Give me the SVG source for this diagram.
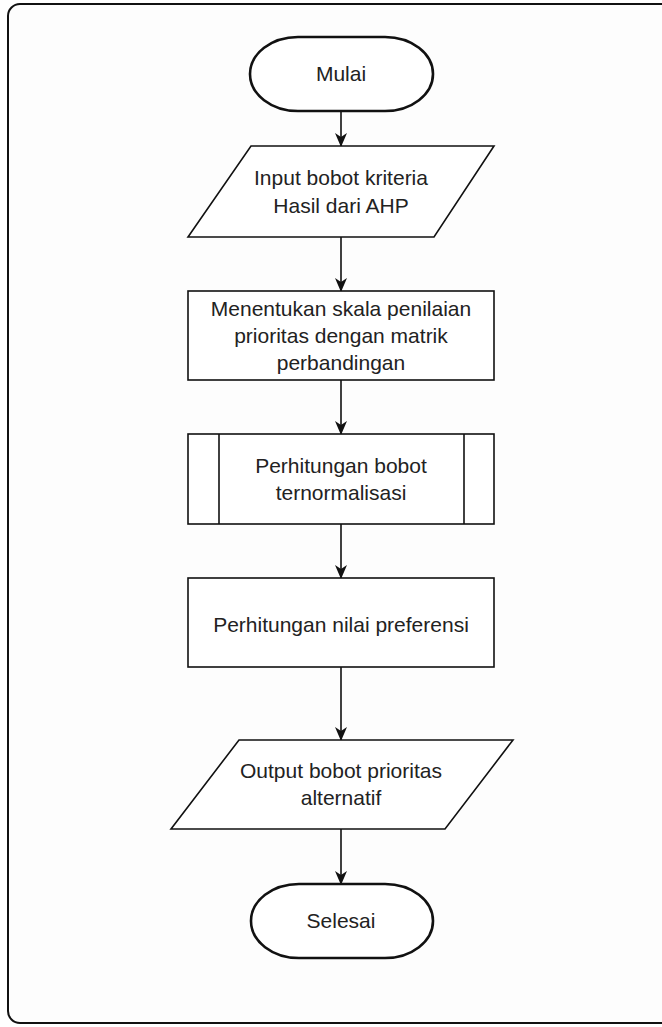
<svg xmlns="http://www.w3.org/2000/svg" width="662" height="1027" viewBox="0 0 662 1027">
  <style>
    .shape { fill: #ffffff; stroke: #111111; stroke-width: 1.6; }
    .term { fill: #ffffff; stroke: #111111; stroke-width: 2.6; }
    .label { font-family: "Liberation Sans", Arial, sans-serif; font-size: 21px; fill: #222222; text-anchor: middle; }
    .edge { fill: none; stroke: #111111; stroke-width: 1.6; }
  </style>
  <defs>
    <marker id="arrow" viewBox="0 0 14 12" refX="13" refY="6" markerWidth="14" markerHeight="12" markerUnits="userSpaceOnUse" orient="auto">
      <path d="M0,0 L14,6 L0,12 L4,6 Z" fill="#111111"/>
    </marker>
  </defs>

  <rect width="662" height="1027" fill="#ffffff"/>

  <!-- outer frame -->
  <rect id="frame" x="8" y="4" width="665" height="1019" rx="12" ry="12" fill="#fdfdfd" stroke="#111111" stroke-width="2"/>

  <!-- connectors -->
  <g id="connectors">
    <line class="edge" x1="341" y1="111" x2="341" y2="146" marker-end="url(#arrow)"/>
    <line class="edge" x1="341" y1="237" x2="341" y2="291" marker-end="url(#arrow)"/>
    <line class="edge" x1="341" y1="380" x2="341" y2="434" marker-end="url(#arrow)"/>
    <line class="edge" x1="341" y1="524" x2="341" y2="578" marker-end="url(#arrow)"/>
    <line class="edge" x1="341" y1="667" x2="341" y2="740" marker-end="url(#arrow)"/>
    <line class="edge" x1="341" y1="829" x2="341" y2="884" marker-end="url(#arrow)"/>
  </g>

  <g id="mulai">
    <rect class="term" x="250" y="37" width="183" height="74" rx="48" ry="37"/>
    <text class="label" x="341" y="81">Mulai</text>
  </g>

  <g id="input-bobot">
    <polygon class="shape" points="251,146 494,146 434,237 188,237"/>
    <text class="label" x="341" y="185">Input bobot kriteria</text>
    <text class="label" x="341" y="213">Hasil dari AHP</text>
  </g>

  <g id="skala-penilaian">
    <rect class="shape" x="188" y="291" width="306" height="89"/>
    <text class="label" x="341" y="316">Menentukan skala penilaian</text>
    <text class="label" x="341" y="343">prioritas dengan matrik</text>
    <text class="label" x="341" y="370">perbandingan</text>
  </g>

  <g id="bobot-ternormalisasi">
    <rect class="shape" x="188" y="434" width="306" height="90"/>
    <line class="edge" x1="219" y1="434" x2="219" y2="524"/>
    <line class="edge" x1="464" y1="434" x2="464" y2="524"/>
    <text class="label" x="341" y="473">Perhitungan bobot</text>
    <text class="label" x="341" y="500">ternormalisasi</text>
  </g>

  <g id="nilai-preferensi">
    <rect class="shape" x="188" y="578" width="306" height="89"/>
    <text class="label" x="341" y="632">Perhitungan nilai preferensi</text>
  </g>

  <g id="output-bobot">
    <polygon class="shape" points="239,740 513,740 445,829 171,829"/>
    <text class="label" x="341" y="778">Output bobot prioritas</text>
    <text class="label" x="341" y="805">alternatif</text>
  </g>

  <g id="selesai">
    <rect class="term" x="251" y="884" width="182" height="74" rx="48" ry="37"/>
    <text class="label" x="341" y="928">Selesai</text>
  </g>
</svg>
